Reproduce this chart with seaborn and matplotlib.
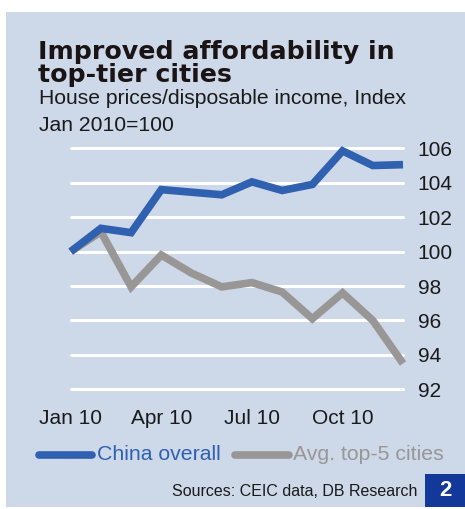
import numpy as np
import pandas as pd
import matplotlib
matplotlib.use("Agg")
import matplotlib.pyplot as plt
import seaborn as sns
from matplotlib.lines import Line2D
from matplotlib.patches import Rectangle

# ---- data ----
months = ["Jan", "Feb", "Mar", "Apr", "May", "Jun", "Jul", "Aug", "Sep", "Oct", "Nov", "Dec"]
china_overall = [100.0, 101.35, 101.1, 103.6, 103.45, 103.3, 104.05, 103.55, 103.9, 105.85, 105.0, 105.05]
top5_cities = [100.0, 101.15, 97.95, 99.8, 98.75, 97.95, 98.2, 97.65, 96.1, 97.6, 96.0, 93.5]
series_names = ["China overall", "Avg. top-5 cities"]
xtick_labels = ["Jan 10", "Apr 10", "Jul 10", "Oct 10"]
xtick_pos = [0, 3, 6, 9]
yticks = [92, 94, 96, 98, 100, 102, 104, 106]

W, H = 465, 509
BG = "#cdd8e9"
BLUE = "#3060b0"
GRAY = "#999795"

df = pd.DataFrame({
    "m": list(range(len(months))) * 2,
    "value": china_overall + top5_cities,
    "series": [series_names[0]] * len(months) + [series_names[1]] * len(months),
})

sns.set_theme(style="white")
plt.rcParams["font.family"] = ["Liberation Sans", "DejaVu Sans"]

fig = plt.figure(figsize=(W / 100, H / 100), dpi=100)
fig.patch.set_facecolor("white")

def fx(px):
    return px / W

def fy(py):
    return 1 - py / H

# panel background
fig.add_artist(Rectangle((fx(6), fy(507)), fx(465) - fx(6), fy(12) - fy(507),
                         transform=fig.transFigure, facecolor=BG, edgecolor="none", zorder=0))

left, right = 70.7, 403
top, bottom = 148.3, 389.3
ax = fig.add_axes([fx(left), fy(bottom), fx(right) - fx(left), fy(top) - fy(bottom)])
ax.set_facecolor("none")

for y in yticks:
    ax.axhline(y, color="white", lw=2.2, zorder=1, clip_on=False)

sns.lineplot(data=df, x="m", y="value", hue="series", palette=[BLUE, GRAY],
             hue_order=series_names, linewidth=5.5, ax=ax, legend=False)
for l in ax.get_lines():
    if l.get_linewidth() > 4:
        l.set_clip_on(False)
        l.set_solid_joinstyle("miter")
        l.set_solid_capstyle("butt")
        if matplotlib.colors.to_hex(l.get_color()) == matplotlib.colors.to_hex(BLUE):
            l.set_zorder(4)
        else:
            l.set_zorder(3)

ax.set_xlim(0, 11)
ax.set_ylim(92, 106)
ax.set_xticks(xtick_pos)
ax.set_xticklabels(xtick_labels, fontsize=15, color="#1a1a1a")
ax.set_yticks(yticks)
ax.set_yticklabels([str(v) for v in yticks], fontsize=15, color="#1a1a1a")
ax.yaxis.tick_right()
ax.tick_params(axis="y", length=0, pad=10.5)
ax.tick_params(axis="x", length=0, pad=14)
ax.set_xlabel("")
ax.set_ylabel("")
for s in ax.spines.values():
    s.set_visible(False)

# titles
fig.text(fx(38), fy(82), "Improved affordability in\ntop-tier cities",
         family=["DejaVu Sans"], fontsize=18.2, fontweight="bold", color="#1a1414",
         ha="left", va="baseline", linespacing=0.93)
fig.text(fx(39), fy(104), "House prices/disposable income, Index", fontsize=15.2,
         color="#1a1a1a", ha="left", va="baseline")
fig.text(fx(39), fy(131), "Jan 2010=100", fontsize=15.2, color="#1a1a1a", ha="left", va="baseline")

# legend
ly = 455
fig.add_artist(Line2D([fx(39), fx(92)], [fy(ly), fy(ly)], transform=fig.transFigure,
                      color=BLUE, lw=5.5, solid_capstyle="round"))
fig.text(fx(97), fy(ly), series_names[0], fontsize=15.3, color=BLUE, ha="left", va="center")
fig.add_artist(Line2D([fx(235), fx(289)], [fy(ly), fy(ly)], transform=fig.transFigure,
                      color=GRAY, lw=5.5, solid_capstyle="round"))
fig.text(fx(293), fy(ly), series_names[1], fontsize=15.3, color=GRAY, ha="left", va="center")

# source
fig.text(fx(417), fy(491), "Sources: CEIC data, DB Research", fontsize=11.5,
         color="#1a1a1a", ha="right", va="center")

# number box
fig.add_artist(Rectangle((fx(425), fy(507)), fx(465) - fx(425), fy(474) - fy(507),
                         transform=fig.transFigure, facecolor="#12389a", edgecolor="none"))
fig.text(fx(445), fy(491), "2", fontsize=16, fontweight="bold", color="white",
         ha="center", va="center")

fig.savefig("out.png", dpi=100, facecolor="white")
